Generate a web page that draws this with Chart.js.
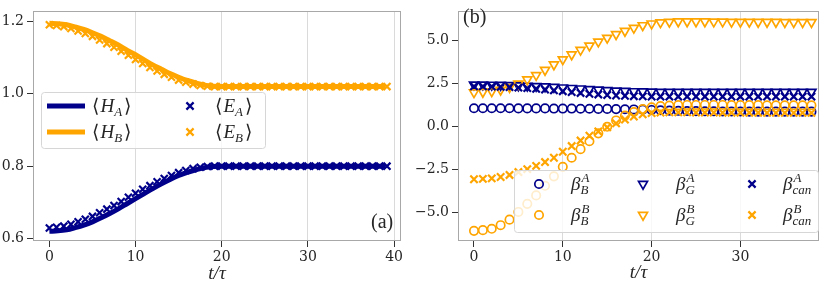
<!DOCTYPE html>
<html>
<head>
<meta charset="utf-8">
<script src="https://cdn.jsdelivr.net/npm/chart.js@4.4.0/dist/chart.umd.min.js"></script>
<style>
  html, body { margin: 0; padding: 0; background: #fff; }
  #wrap { position: relative; width: 831px; height: 288px; overflow: hidden; }
  canvas { position: absolute; top: 0; }
</style>
</head>
<body>
<div id="wrap">
  <canvas id="left" width="412" height="288" style="left:0px"></canvas>
  <canvas id="right" width="419" height="288" style="left:412px"></canvas>
</div>
<script>
// ---- panel (a): energies ----
var tLine = [0,1,2,3,4,5,6,7,8,9,10,11,12,13,14,15,16,17,18,19,20,21,22,23,24,25,26,27,28,29,30,31,32,33,34,35,36,37,38,39];
var hA = [0.620,0.621,0.624,0.630,0.637,0.646,0.657,0.669,0.682,0.696,0.710,0.724,0.738,0.751,0.763,0.774,0.783,0.790,0.796,0.799,
          0.800,0.800,0.800,0.800,0.800,0.800,0.800,0.800,0.800,0.800,0.800,0.800,0.800,0.800,0.800,0.800,0.800,0.800,0.800,0.800];
var hB = [1.195,1.194,1.191,1.185,1.178,1.169,1.159,1.147,1.135,1.121,1.108,1.094,1.080,1.068,1.056,1.046,1.037,1.030,1.024,1.021,
          1.020,1.020,1.020,1.020,1.020,1.020,1.020,1.020,1.020,1.020,1.020,1.020,1.020,1.020,1.020,1.020,1.020,1.020,1.020,1.020];
var tCross = [0,0.83,1.67,2.5,3.33,4.17,5,5.83,6.67,7.5,8.33,9.17,10,10.83,11.67,12.5,13.33,14.17,15,15.83,16.67,17.5,18.33,19.17,
              20,20.83,21.67,22.5,23.33,24.17,25,25.83,26.67,27.5,28.33,29.17,30,30.83,31.67,32.5,33.33,34.17,35,35.83,36.67,37.5,38.33,39.17];
var eA = [0.629,0.631,0.634,0.639,0.646,0.653,0.661,0.671,0.681,0.691,0.702,0.714,0.725,0.736,0.746,0.757,0.766,0.774,0.782,0.788,0.793,0.797,0.799,0.800,
          0.800,0.800,0.800,0.800,0.800,0.800,0.800,0.800,0.800,0.800,0.800,0.800,0.800,0.800,0.800,0.800,0.800,0.800,0.800,0.800,0.800,0.800,0.800,0.800];
var eB = [1.191,1.189,1.186,1.181,1.174,1.167,1.159,1.149,1.139,1.129,1.118,1.107,1.095,1.084,1.073,1.063,1.054,1.046,1.038,1.032,1.027,1.023,1.021,1.020,
          1.020,1.020,1.020,1.020,1.020,1.020,1.020,1.020,1.020,1.020,1.020,1.020,1.020,1.020,1.020,1.020,1.020,1.020,1.020,1.020,1.020,1.020,1.020,1.020];
var xTicksA = [0, 10, 20, 30, 40];
var yTicksA = [0.6, 0.8, 1.0, 1.2];

// ---- panel (b): inverse temperatures ----
var tBeta = [0,1,2,3,4,5,6,7,8,9,10,11,12,13,14,15,16,17,18,19,20,21,22,23,24,25,26,27,28,29,30,31,32,33,34,35,36,37,38];
var betaBA = [1.08,1.08,1.08,1.08,1.08,1.07,1.07,1.07,1.07,1.06,1.06,1.06,1.05,1.05,1.04,1.04,1.03,1.02,1.01,1.00,0.98,0.96,0.94,0.93,0.92,0.91,0.90,0.90,0.89,0.89,0.89,0.88,0.88,0.88,0.88,0.88,0.88,0.88,0.88];
var betaBB = [-6.05,-6.01,-5.93,-5.72,-5.40,-4.95,-4.48,-3.99,-3.43,-2.88,-2.33,-1.80,-1.30,-0.84,-0.38,0.00,0.37,0.65,0.86,1.03,1.13,1.20,1.24,1.26,1.27,1.27,1.27,1.27,1.27,1.26,1.26,1.26,1.26,1.25,1.25,1.25,1.25,1.25,1.25];
var betaGA = [2.45,2.45,2.44,2.43,2.42,2.40,2.38,2.36,2.34,2.31,2.28,2.25,2.22,2.19,2.16,2.13,2.10,2.08,2.06,2.05,2.04,2.03,2.03,2.03,2.03,2.03,2.03,2.03,2.03,2.03,2.03,2.03,2.03,2.03,2.03,2.03,2.03,2.03,2.03];
var betaGB = [2.00,2.02,2.06,2.15,2.30,2.50,2.75,3.00,3.30,3.62,3.92,4.20,4.47,4.72,4.95,5.17,5.38,5.57,5.75,5.90,6.00,6.07,6.10,6.12,6.12,6.12,6.12,6.11,6.11,6.10,6.10,6.10,6.09,6.09,6.09,6.08,6.08,6.08,6.08];
var betaCanA = [2.35,2.35,2.34,2.33,2.31,2.28,2.25,2.21,2.17,2.12,2.07,2.02,1.97,1.92,1.88,1.85,1.82,1.80,1.78,1.77,1.76,1.76,1.76,1.76,1.76,1.76,1.76,1.76,1.76,1.76,1.76,1.76,1.76,1.76,1.76,1.76,1.76,1.76,1.76];
var betaCanB = [-3.05,-3.03,-3.00,-2.92,-2.80,-2.63,-2.46,-2.27,-2.05,-1.80,-1.45,-1.12,-0.80,-0.52,-0.27,-0.03,0.20,0.42,0.60,0.72,0.80,0.83,0.84,0.84,0.84,0.83,0.83,0.83,0.82,0.82,0.82,0.82,0.82,0.81,0.81,0.81,0.81,0.81,0.81];
var xTicksB = [0, 10, 20, 30];
var yTicksB = [-5, -2.5, 0, 2.5, 5];

var NAVY = '#00008b', ORANGE = '#ffa500';
var TICKFONT = '"DejaVu Serif", serif';
var SERIF = '"Liberation Serif", "DejaVu Serif", serif';
var TXT = '#262626';

function pts(xs, ys) { return xs.map(function (x, i) { return { x: x, y: ys[i] }; }); }

function fmtY(v) {
  var s = Math.abs(v).toFixed(1);
  return v < 0 ? '\u2212' + s : s;
}

function makeScales(xMin, xMax, xTicks, yMin, yMax, yTicks, yWidth, xHeight) {
  return {
    x: {
      type: 'linear', min: xMin, max: xMax,
      afterBuildTicks: function (s) { s.ticks = xTicks.map(function (v) { return { value: v }; }); },
      afterFit: function (s) { s.height = xHeight; },
      border: { display: false },
      grid: {
        color: function (c) { return c.tick && c.tick.value === 0 ? 'rgba(0,0,0,0)' : '#dadada'; },
        lineWidth: 1, drawTicks: true, tickLength: 6, tickColor: '#333', tickWidth: 1
      },
      ticks: { font: { family: TICKFONT, size: 14 }, color: TXT, padding: 2, maxRotation: 0,
               callback: function (v) { return String(v); } }
    },
    y: {
      type: 'linear', min: yMin, max: yMax,
      afterBuildTicks: function (s) { s.ticks = yTicks.map(function (v) { return { value: v }; }); },
      afterFit: function (s) { s.width = yWidth; },
      border: { display: false },
      grid: { drawOnChartArea: false, drawTicks: true, tickLength: 6, tickColor: '#333', tickWidth: 1 },
      ticks: { font: { family: TICKFONT, size: 14 }, color: TXT, padding: 3,
               callback: function (v) { return fmtY(v); } }
    }
  };
}

// small marker painter for the legends
function marker(ctx, style, color, x, y) {
  ctx.save();
  ctx.strokeStyle = color;
  ctx.lineCap = 'butt';
  ctx.beginPath();
  if (style === 'line') {
    ctx.lineWidth = 5;
    ctx.moveTo(x - 19, y); ctx.lineTo(x + 19, y);
  } else if (style === 'cross') {
    ctx.lineWidth = 2.2;
    var d = 3.6;
    ctx.moveTo(x - d, y - d); ctx.lineTo(x + d, y + d);
    ctx.moveTo(x - d, y + d); ctx.lineTo(x + d, y - d);
  } else if (style === 'circle') {
    ctx.lineWidth = 1.7;
    ctx.arc(x, y, 4.2, 0, Math.PI * 2);
  } else if (style === 'tri') {
    ctx.lineWidth = 1.7;
    var r = 5.2;
    ctx.moveTo(x, y + r);
    ctx.lineTo(x - r * 0.866, y - r * 0.5);
    ctx.lineTo(x + r * 0.866, y - r * 0.5);
    ctx.closePath();
  }
  ctx.stroke();
  ctx.restore();
}

// draws base symbol with optional super/subscript, plus brackets
function mathLabel(ctx, x, y, base, sup, sub, brackets) {
  ctx.save();
  ctx.fillStyle = TXT;
  ctx.textBaseline = 'alphabetic';
  ctx.textAlign = 'left';
  var cx = x;
  if (brackets) {
    ctx.font = '19px ' + SERIF;
    ctx.fillText('\u27e8', cx, y);
    cx += ctx.measureText('\u27e8').width + 1;
  }
  ctx.font = 'italic 19px ' + SERIF;
  ctx.fillText(base, cx, y);
  cx += ctx.measureText(base).width;
  ctx.font = 'italic 13px ' + SERIF;
  var w = 0;
  if (sup) { ctx.fillText(sup, cx + 1, y - 8); w = Math.max(w, ctx.measureText(sup).width); }
  if (sub) { ctx.fillText(sub, cx, y + 4); w = Math.max(w, ctx.measureText(sub).width); }
  cx += w + 2;
  if (brackets) {
    ctx.font = '19px ' + SERIF;
    ctx.fillText('\u27e9', cx, y);
  }
  ctx.restore();
}

function legendBox(ctx, x0, y0, x1, y1) {
  ctx.save();
  ctx.fillStyle = 'rgba(255,255,255,0.8)';
  ctx.strokeStyle = '#d6d6d6';
  ctx.lineWidth = 1;
  ctx.beginPath();
  if (ctx.roundRect) ctx.roundRect(x0 + 0.5, y0 + 0.5, x1 - x0, y1 - y0, 3);
  else ctx.rect(x0 + 0.5, y0 + 0.5, x1 - x0, y1 - y0);
  ctx.fill();
  ctx.stroke();
  ctx.restore();
}

function frameAndTitle(chart, yTitle) {
  var ctx = chart.ctx, a = chart.chartArea;
  ctx.save();
  ctx.strokeStyle = '#a8a8a8';
  ctx.lineWidth = 1;
  ctx.strokeRect(Math.round(a.left) + 0.5, Math.round(a.top) + 0.5,
                 Math.round(a.right - a.left) - 1, Math.round(a.bottom - a.top) - 1);
  ctx.fillStyle = TXT;
  ctx.font = 'italic 19px ' + SERIF;
  ctx.textAlign = 'center';
  ctx.textBaseline = 'middle';
  ctx.fillText('t/\u03c4', (a.left + a.right) / 2, yTitle);
  ctx.restore();
}

var panelA = {
  id: 'panelA',
  afterDraw: function (chart) {
    var ctx = chart.ctx;
    frameAndTitle(chart, 274);
    legendBox(ctx, 41, 92, 265, 148);
    marker(ctx, 'line', NAVY, 66, 106);
    marker(ctx, 'line', ORANGE, 66, 132);
    mathLabel(ctx, 92, 112, 'H', null, 'A', true);
    mathLabel(ctx, 92, 138, 'H', null, 'B', true);
    marker(ctx, 'cross', NAVY, 190, 106);
    marker(ctx, 'cross', ORANGE, 190, 132);
    mathLabel(ctx, 215, 112, 'E', null, 'A', true);
    mathLabel(ctx, 215, 138, 'E', null, 'B', true);
    ctx.save();
    ctx.fillStyle = TXT;
    ctx.font = '20px ' + SERIF;
    ctx.textAlign = 'left';
    ctx.textBaseline = 'middle';
    ctx.fillText('(a)', 371, 223);
    ctx.restore();
  }
};

var panelB = {
  id: 'panelB',
  afterDraw: function (chart) {
    var ctx = chart.ctx;
    frameAndTitle(chart, 273);
    legendBox(ctx, 102, 170, 406, 232);
    var rows = [184, 215];
    marker(ctx, 'circle', NAVY, 127, rows[0]);
    marker(ctx, 'circle', ORANGE, 127, rows[1]);
    mathLabel(ctx, 159, rows[0] + 6, '\u03b2', 'A', 'B', false);
    mathLabel(ctx, 159, rows[1] + 6, '\u03b2', 'B', 'B', false);
    marker(ctx, 'tri', NAVY, 231, rows[0]);
    marker(ctx, 'tri', ORANGE, 231, rows[1]);
    mathLabel(ctx, 264, rows[0] + 6, '\u03b2', 'A', 'G', false);
    mathLabel(ctx, 264, rows[1] + 6, '\u03b2', 'B', 'G', false);
    marker(ctx, 'cross', NAVY, 340, rows[0]);
    marker(ctx, 'cross', ORANGE, 340, rows[1]);
    mathLabel(ctx, 371, rows[0] + 6, '\u03b2', 'A', 'can', false);
    mathLabel(ctx, 371, rows[1] + 6, '\u03b2', 'B', 'can', false);
    ctx.save();
    ctx.fillStyle = TXT;
    ctx.font = '20px ' + SERIF;
    ctx.textAlign = 'left';
    ctx.textBaseline = 'middle';
    ctx.fillText('(b)', 51, 18);
    ctx.restore();
  }
};

new Chart(document.getElementById('left'), {
  type: 'scatter',
  data: {
    datasets: [
      { data: pts(tLine, hA), showLine: true, borderColor: NAVY, borderWidth: 5, pointRadius: 0, cubicInterpolationMode: 'monotone', order: 4 },
      { data: pts(tLine, hB), showLine: true, borderColor: ORANGE, borderWidth: 5, pointRadius: 0, cubicInterpolationMode: 'monotone', order: 3 },
      { data: pts(tCross, eA), pointStyle: 'crossRot', pointRadius: 5, borderWidth: 2.2, borderColor: NAVY, backgroundColor: NAVY, order: 2 },
      { data: pts(tCross, eB), pointStyle: 'crossRot', pointRadius: 5, borderWidth: 2.2, borderColor: ORANGE, backgroundColor: ORANGE, order: 1 }
    ]
  },
  options: {
    responsive: false, animation: false, devicePixelRatio: 1,
    layout: { padding: { left: 0, right: 11, top: 2, bottom: 0 } },
    plugins: { legend: { display: false }, tooltip: { enabled: false } },
    scales: makeScales(-1.9, 40.8, xTicksA, 0.593, 1.228, yTicksA, 33, 47)
  },
  plugins: [panelA]
});

var HOLLOW = 'rgba(0,0,0,0)';
new Chart(document.getElementById('right'), {
  type: 'scatter',
  data: {
    datasets: [
      { data: pts(tBeta, betaBA), pointStyle: 'circle', pointRadius: 4.2, borderWidth: 1.7, borderColor: NAVY, backgroundColor: HOLLOW, order: 6 },
      { data: pts(tBeta, betaBB), pointStyle: 'circle', pointRadius: 4.2, borderWidth: 1.7, borderColor: ORANGE, backgroundColor: HOLLOW, order: 5 },
      { data: pts(tBeta, betaGA), pointStyle: 'triangle', rotation: 180, pointRadius: 5.2, borderWidth: 1.7, borderColor: NAVY, backgroundColor: HOLLOW, order: 4 },
      { data: pts(tBeta, betaGB), pointStyle: 'triangle', rotation: 180, pointRadius: 5.2, borderWidth: 1.7, borderColor: ORANGE, backgroundColor: HOLLOW, order: 3 },
      { data: pts(tBeta, betaCanA), pointStyle: 'crossRot', pointRadius: 5.2, borderWidth: 2.2, borderColor: NAVY, backgroundColor: NAVY, order: 2 },
      { data: pts(tBeta, betaCanB), pointStyle: 'crossRot', pointRadius: 5.2, borderWidth: 2.2, borderColor: ORANGE, backgroundColor: ORANGE, order: 1 }
    ]
  },
  options: {
    responsive: false, animation: false, devicePixelRatio: 1,
    layout: { padding: { left: 0, right: 12, top: 2, bottom: 0 } },
    plugins: { legend: { display: false }, tooltip: { enabled: false } },
    scales: makeScales(-1.8, 38.85, xTicksB, -6.64, 6.71, yTicksB, 46, 47)
  },
  plugins: [panelB]
});
</script>
</body>
</html>
